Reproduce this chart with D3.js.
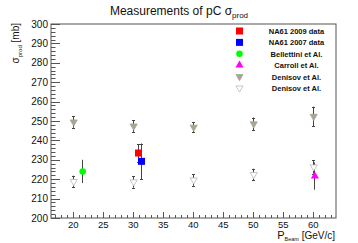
<!DOCTYPE html>
<html><head><meta charset="utf-8">
<script src="https://cdn.jsdelivr.net/npm/d3@7"></script>
<style>body{margin:0;background:#fff}svg{display:block;font-family:"Liberation Sans",Arial,sans-serif}</style>
</head><body><svg id="c" width="358" height="243"></svg>
<script>
// Data
const na61_2009 = [{x:30.8, y:233.5, e:4.5}];
const na61_2007 = [{x:31.3, y:229.2, e:9.2}];
const bellettini = [{x:21.5, y:224.0, e:6.0}];
const carroll = [{x:60.2, y:221.6, e:7.0}];
const denisovFilled = [{x:20,y:249.5,e:3},{x:30,y:247.4,e:3},{x:40,y:246.8,e:2.7},{x:50,y:248.5,e:3.3},{x:60,y:252.4,e:5}];
const denisovOpen = [{x:20,y:218.8,e:3},{x:30,y:218.6,e:3},{x:40,y:219.6,e:3},{x:50,y:222.4,e:3},{x:60,y:226.3,e:3.5}];
const xTicks = [20,25,30,35,40,45,50,55,60];
const yTicks = [200,210,220,230,240,250,260,270,280,290,300];
const legendLabels = ["NA61 2009 data","NA61 2007 data","Bellettini et Al.","Carroll et Al.","Denisov et Al.","Denisov et Al."];

const svg = d3.select("#c");
const L=51, R=336, T=24, B=218;
const x = d3.scaleLinear().domain([16.3,63.8]).range([L,R]);
const y = d3.scaleLinear().domain([200,300]).range([B,T]);

// frame
svg.append("rect").attr("x",L).attr("y",T).attr("width",R-L).attr("height",B-T)
  .attr("fill","none").attr("stroke","#555").attr("stroke-width",1);

// y ticks
const yMinor = d3.range(200,300.1,2);
svg.append("g").selectAll("line").data(yMinor).join("line")
  .attr("x1",L).attr("x2",d=>L+(d%10===0?9:4.5))
  .attr("y1",d=>Math.round(y(d))+0.5).attr("y2",d=>Math.round(y(d))+0.5)
  .attr("stroke","#555").attr("stroke-width",1);
svg.append("g").selectAll("text").data(yTicks).join("text")
  .attr("x",L-3).attr("y",d=>y(d)+3.6).attr("text-anchor","end")
  .attr("font-size",10).attr("fill","#111").text(d=>d);

// x ticks
const xMinor = d3.range(17,64,1);
svg.append("g").selectAll("line").data(xMinor).join("line")
  .attr("x1",d=>Math.round(x(d))+0.5).attr("x2",d=>Math.round(x(d))+0.5)
  .attr("y1",B).attr("y2",d=>B-(d%5===0?6:3))
  .attr("stroke","#555").attr("stroke-width",1);
svg.append("g").selectAll("text").data(xTicks).join("text")
  .attr("x",d=>x(d)).attr("y",B+9.5).attr("text-anchor","middle")
  .attr("font-size",9.5).attr("fill","#111").text(d=>d);

// title
const title = svg.append("text").attr("x",179).attr("y",15).attr("text-anchor","middle")
  .attr("font-size",12).attr("fill","#111");
title.append("tspan").text("Measurements of pC σ");
title.append("tspan").attr("font-size",8).attr("dy",3).text("prod");

// y title
const yt = svg.append("text").attr("transform","translate(19,23) rotate(-90)")
  .attr("text-anchor","end").attr("font-size",10).attr("fill","#111");
yt.append("tspan").text("σ");
yt.append("tspan").attr("font-size",6).attr("dy",2.5).text("prod");
yt.append("tspan").attr("dy",-2.5).text(" [mb]");

// x title
const xt = svg.append("text").attr("x",335).attr("y",238.5).attr("text-anchor","end")
  .attr("font-size",10).attr("fill","#111");
xt.append("tspan").attr("font-size",11).text("P");
xt.append("tspan").attr("font-size",5.5).attr("dy",2).text("Beam");
xt.append("tspan").attr("dy",-2).text(" [GeV/c]");

// error bars
function errs(data, cap){
  const g = svg.append("g").attr("stroke","#444").attr("stroke-width",1);
  data.forEach(d=>{
    const cx = Math.round(x(d.x))+0.5;
    g.append("line").attr("x1",cx).attr("x2",cx).attr("y1",y(d.y+d.e)).attr("y2",y(d.y-d.e));
    if(cap){
      [d.y+d.e,d.y-d.e].forEach(v=>g.append("line").attr("x1",cx-1.5).attr("x2",cx+1.5).attr("y1",Math.round(y(v))+0.5).attr("y2",Math.round(y(v))+0.5));
    }
  });
}
errs(denisovFilled,true); errs(denisovOpen,true);
errs(bellettini,false); errs(carroll,false);
errs(na61_2009,true); errs(na61_2007,true);

const tri = d3.symbol().type(d3.symbolTriangle).size(22);
function downTri(g,cx,cy,fill,stroke){
  g.append("path").attr("d",tri()).attr("transform",`translate(${cx},${cy}) rotate(180)`)
   .attr("fill",fill).attr("stroke",stroke).attr("stroke-width",0.8);
}
function marker(kind,cx,cy){
  const g = svg.append("g");
  if(kind==="red") g.append("rect").attr("x",cx-3.5).attr("y",cy-3.5).attr("width",7).attr("height",7).attr("fill","#ff0000");
  if(kind==="blue") g.append("rect").attr("x",cx-3.5).attr("y",cy-3.5).attr("width",7).attr("height",7).attr("fill","#0000ff");
  if(kind==="green") g.append("circle").attr("cx",cx).attr("cy",cy).attr("r",3.3).attr("fill","#00ff00");
  if(kind==="magenta") g.append("path").attr("d",d3.symbol().type(d3.symbolTriangle).size(28)()).attr("transform",`translate(${cx},${cy})`).attr("fill","#ff00ff");
  if(kind==="dfill") downTri(g,cx,cy,"#aaa592","#aaa592");
  if(kind==="dopen") downTri(g,cx,cy,"#ffffff","#b8b8b8");
}
denisovFilled.forEach(d=>marker("dfill",x(d.x)+0.5,y(d.y)));
denisovOpen.forEach(d=>marker("dopen",x(d.x)+0.5,y(d.y)));
bellettini.forEach(d=>marker("green",x(d.x)+0.5,y(d.y)));
carroll.forEach(d=>marker("magenta",x(d.x)+0.5,y(d.y)));
na61_2009.forEach(d=>marker("red",x(d.x)+0.5,y(d.y)));
na61_2007.forEach(d=>marker("blue",x(d.x)+0.5,y(d.y)));

// legend
const kinds = ["red","blue","green","magenta","dfill","dopen"];
legendLabels.forEach((lab,i)=>{
  const ly = 31 + i*11.4;
  marker(kinds[i],239.5,ly);
  svg.append("text").attr("x",296.5).attr("y",ly+3).attr("text-anchor","middle")
    .attr("font-size",7.5).attr("font-weight","bold").attr("fill","#111").text(lab);
});
</script></body></html>
